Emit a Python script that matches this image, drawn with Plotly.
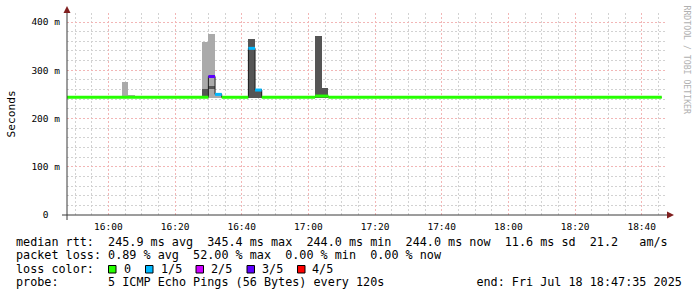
import plotly.graph_objects as go

DAY = "2025-07-18 "

# ---- data (ms) ----
# smoke: spread of the 5 pings per 2-minute step (only steps where it is visible)
smoke_time = ["16:04", "16:06", "16:28", "16:30", "16:32", "16:42", "16:44", "17:02", "17:04"]
ping_low   = [243.5, 243.5, 243.5, 243.5, 243.5, 243.5, 243.5, 243.5, 243.5]
ping_high  = [275.5, 249.0, 358.5, 375.0, 252.0, 365.0, 261.0, 371.0, 263.0]
core_low   = [None, None, 243.5, 263.0, None, 243.5, 243.5, 243.5, 243.5]
core_high  = [None, None, 261.0, 267.0, None, 365.0, 261.0, 371.0, 263.0]

# median rtt as a step series: each value holds from its time until the next time
median_time  = ["15:46", "16:30", "16:32", "16:34", "16:42", "16:44", "16:46", "17:02", "17:06", "18:46"]
median_value = [244.0, 287.0, 250.0, 244.0, 345.4, 259.0, 244.0, 246.5, 244.0, 244.0]
median_loss  = [0, 3, 1, 0, 1, 1, 0, 0, 0, 0]

loss_labels = ["0", "1/5", "2/5", "3/5", "4/5"]
loss_colors = ["#26ff00", "#00b8ff", "#cc00ff", "#5e00ff", "#ff0000"]

y_tickvals = [0, 100, 200, 300, 400]
y_ticktext = ["0\u00a0\u00a0", "100 m", "200 m", "300 m", "400 m"]

rtt_stats = {"avg": 245.9, "max": 345.4, "min": 244.0, "now": 244.0}
rtt_sd = 11.6
rtt_ams = 21.2
loss_stats = {"avg": 0.89, "max": 52.00, "min": 0.00, "now": 0.00}
probe_text = "5 ICMP Echo Pings (56 Bytes) every 120s"
end_text = "end: Fri Jul 18 18:47:35 2025"

# ---- geometry ----
W, H = 697, 297
L, T, PW, PH = 67, 13, 600, 202
STEP_MS = 120000

def ts(hm):
    return DAY + hm

def px(xp):
    return (xp - L) / PW

def py(yp):
    return (T + PH - yp) / PH

fig = go.Figure()

# outer smoke (light)
fig.add_trace(go.Bar(
    x=[ts(t) for t in smoke_time],
    y=[h - l for h, l in zip(ping_high, ping_low)],
    base=ping_low, width=STEP_MS, offset=0,
    marker=dict(color="#aaaaaa", line=dict(width=0)),
    hoverinfo="skip", showlegend=False))
# inner smoke (dark)
ct = [ts(t) for t, l in zip(smoke_time, core_low) if l is not None]
cl = [l for l in core_low if l is not None]
ch = [h for h in core_high if h is not None]
fig.add_trace(go.Bar(
    x=ct, y=[h - l for h, l in zip(ch, cl)], base=cl, width=STEP_MS, offset=0,
    marker=dict(color="#555555", line=dict(width=0)),
    hoverinfo="skip", showlegend=False))

# thin median step line
fig.add_trace(go.Scatter(
    x=[ts(t) for t in median_time], y=median_value, mode="lines",
    line=dict(color="#1e1e1e", width=1, shape="hv"),
    hoverinfo="skip", showlegend=False))

# loss-coloured median bands
for lvl, col in enumerate(loss_colors):
    xs, ys = [], []
    for i in range(len(median_time) - 1):
        if median_loss[i] == lvl:
            xs += [ts(median_time[i]), ts(median_time[i + 1]), None]
            ys += [median_value[i], median_value[i], None]
    if xs:
        fig.add_trace(go.Scatter(x=xs, y=ys, mode="lines",
                                 line=dict(color=col, width=3),
                                 hoverinfo="skip", showlegend=False))

grid_dash = "2px,2px"
MINOR_COL = "#d2d2d2"
MAJOR_COL = "#f2b6b6"
fig.update_layout(
    width=W, height=H,
    margin=dict(l=L, r=W - L - PW, t=T, b=H - T - PH, pad=0),
    paper_bgcolor="white", plot_bgcolor="white",
    barmode="overlay", bargap=0,
    showlegend=False,
    xaxis=dict(
        type="date",
        range=[ts("15:47:35"), ts("18:47:35")],
        tick0=ts("16:00"), dtick=20 * 60 * 1000, tickformat="%H:%M",
        showgrid=True, gridcolor=MAJOR_COL, gridwidth=1, griddash=grid_dash,
        minor=dict(dtick=5 * 60 * 1000, showgrid=True, gridcolor=MINOR_COL,
                   griddash=grid_dash, gridwidth=1),
        zeroline=False, showline=False, ticks="",
        tickfont=dict(family="DejaVu Sans Mono", size=9.5, color="#000000"),
        ticklabelstandoff=4,
        automargin=False, fixedrange=True,
    ),
    yaxis=dict(
        range=[0, PH / 0.4825],
        tickvals=y_tickvals, ticktext=y_ticktext,
        showgrid=True, gridcolor=MAJOR_COL, gridwidth=1, griddash=grid_dash,
        minor=dict(dtick=20, showgrid=True, gridcolor=MINOR_COL,
                   griddash=grid_dash, gridwidth=1),
        zeroline=False, showline=False, ticks="",
        tickfont=dict(family="DejaVu Sans Mono", size=9.5, color="#000000"),
        ticklabelstandoff=6,
        automargin=False, fixedrange=True,
    ),
)

AXIS_COL = "#3a3a3a"
ARROW_COL = "#801f1f"
shapes = [
    # x axis
    dict(type="line", xref="paper", yref="paper", x0=px(62), x1=px(668), y0=py(215), y1=py(215),
         line=dict(color=AXIS_COL, width=1)),
    # y axis
    dict(type="line", xref="paper", yref="paper", x0=px(67), x1=px(67), y0=py(220), y1=py(11),
         line=dict(color=AXIS_COL, width=1)),
]
# arrows
shapes.append(dict(type="path", xref="paper", yref="paper",
                   path="M {} {} L {} {} L {} {} Z".format(px(667), py(211.5), px(674), py(215), px(667), py(218.5)),
                   fillcolor=ARROW_COL, line=dict(width=0)))
shapes.append(dict(type="path", xref="paper", yref="paper",
                   path="M {} {} L {} {} L {} {} Z".format(px(63.5), py(13), px(67), py(6), px(70.5), py(13)),
                   fillcolor=ARROW_COL, line=dict(width=0)))

# legend boxes
box_left = [108.5, 145.5, 196.0, 247.0, 297.5]
label_left = [123.0, 159.7, 210.0, 260.7, 311.3]
for bx, col in zip(box_left, loss_colors):
    shapes.append(dict(type="rect", xref="paper", yref="paper",
                       x0=px(bx), x1=px(bx + 7.5), y0=py(273), y1=py(265.5),
                       fillcolor=col, line=dict(color="#000000", width=1)))
fig.update_layout(shapes=shapes)

NB = "\u00a0"
LEG_FONT = dict(family="DejaVu Sans Mono", size=11.77, color="#000000")

def nb(s):
    return s.replace(" ", NB)

line1 = "median rtt:  {:.1f} ms avg  {:.1f} ms max  {:.1f} ms min  {:.1f} ms now  {:.1f} ms sd  {:.1f}   am/s".format(
    rtt_stats["avg"], rtt_stats["max"], rtt_stats["min"], rtt_stats["now"], rtt_sd, rtt_ams)
line2 = "packet loss: {:.2f} % avg  {:.2f} % max  {:.2f} % min  {:.2f} % now".format(
    loss_stats["avg"], loss_stats["max"], loss_stats["min"], loss_stats["now"])
line4 = "probe:       " + probe_text
line4 = line4 + " " * (65 - len(line4)) + end_text

anns = []
def add_text(text, x, y, font, anchor="left", angle=0, yanchor="middle"):
    anns.append(dict(text=nb(text), x=px(x), y=py(y), xref="paper", yref="paper",
                     xanchor=anchor, yanchor=yanchor, showarrow=False, font=font,
                     textangle=angle, borderpad=0))

add_text(line1, 15.0, 242.0, LEG_FONT)
add_text(line2, 15.0, 255.3, LEG_FONT)
add_text("loss color:", 15.0, 268.7, LEG_FONT)
for lx, lab in zip(label_left, loss_labels):
    add_text(lab, lx, 268.7, LEG_FONT)
add_text(line4, 15.0, 282.0, LEG_FONT)

add_text("Seconds", 11, 114.5, dict(family="DejaVu Sans Mono", size=11.2, color="#000000"),
         anchor="center", angle=-90)
add_text("RRDTOOL / TOBI OETIKER", 687, 59.5, dict(family="DejaVu Sans Mono", size=8.2, color="#b0b0b0"),
         anchor="center", angle=90)
fig.update_layout(annotations=anns)

fig.write_html("out.html")
